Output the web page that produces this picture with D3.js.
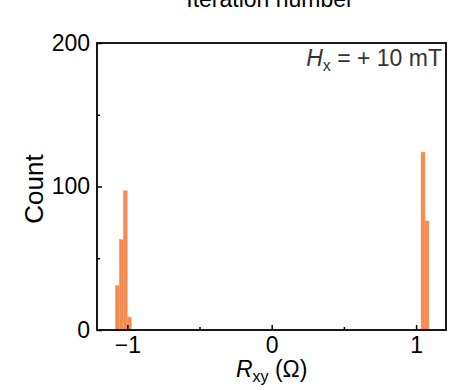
<!DOCTYPE html>
<html>
<head>
<meta charset="utf-8">
<script src="https://cdn.jsdelivr.net/npm/d3@7"></script>
<style>
  body { margin: 0; background: #fff; }
  svg text { font-family: "Liberation Sans", Arial, sans-serif; }
</style>
</head>
<body>
<div id="chart"></div>
<script>
// histogram bins (left edge in ohm) and counts
const binWidth = 0.0275;
const binStarts = [-1.083, -1.0555, -1.028, -1.0005, 1.034, 1.0615];
const binCounts = [31, 63, 97, 9, 124, 76];
const xTicks = [-1, 0, 1];
const xMinor = [-0.5, 0.5];
const yTicks = [0, 100, 200];
const yMinor = [50, 150];

function draw() {
  const W = 466, H = 390;
  const margin = {top: 43, right: 20, bottom: 60, left: 97};
  const width = W - margin.left - margin.right,
        height = H - margin.top - margin.bottom;

  const svg = d3.select("#chart").append("svg")
      .attr("width", W).attr("height", H);

  const g = svg.append("g")
      .attr("transform", `translate(${margin.left}, ${margin.top})`);

  const x = d3.scaleLinear().domain([-1.21, 1.207]).range([0, width]);
  const y = d3.scaleLinear().domain([0, 200]).range([height, 0]);

  const bins = binStarts.map((s, i) => ({x0: s, x1: s + binWidth, n: binCounts[i]}));

  // bars
  g.selectAll("rect.bar")
    .data(bins)
    .join("rect")
      .attr("class", "bar")
      .attr("x", d => x(d.x0))
      .attr("width", d => x(d.x1) - x(d.x0))
      .attr("y", d => y(d.n))
      .attr("height", d => y(0) - y(d.n))
      .attr("fill", "#f58b50")
      .attr("stroke", "#f8a070")
      .attr("stroke-width", 0.5);

  // x axis, ticks pointing inward
  g.append("g")
      .attr("transform", `translate(0, ${height})`)
      .call(d3.axisBottom(x).tickValues(xTicks).tickSize(-5).tickPadding(7).tickFormat(d3.format("d")));
  g.append("g")
      .attr("transform", `translate(0, ${height})`)
      .call(d3.axisBottom(x).tickValues(xMinor).tickSize(-3).tickFormat(""));

  // y axis
  g.append("g")
      .call(d3.axisLeft(y).tickValues(yTicks).tickSize(-5).tickPadding(7));
  g.append("g")
      .call(d3.axisLeft(y).tickValues(yMinor).tickSize(-3).tickFormat(""));

  g.selectAll(".domain").remove();
  g.selectAll(".tick line").attr("stroke", "#000").attr("stroke-width", 1.5);
  g.selectAll(".tick text")
      .attr("fill", "#000")
      .style("font-size", "23px");

  // frame
  g.append("rect")
      .attr("x", 0).attr("y", 0)
      .attr("width", width).attr("height", height)
      .attr("fill", "none")
      .attr("stroke", "#000")
      .attr("stroke-width", 1.8);

  // axis labels
  svg.append("text")
      .attr("transform", `translate(43, ${margin.top + 146}) rotate(-90)`)
      .attr("text-anchor", "middle")
      .style("font-size", "26px")
      .text("Count");

  const xl = svg.append("text")
      .attr("x", margin.left + x(0))
      .attr("y", 377)
      .attr("text-anchor", "middle")
      .style("font-size", "23px");
  xl.append("tspan").style("font-style", "italic").text("R");
  xl.append("tspan").attr("dy", 5).style("font-size", "16px").text("xy");
  xl.append("tspan").attr("dy", -5).text(" (Ω)");

  // field annotation
  const hl = g.append("text")
      .attr("x", width - 4)
      .attr("y", 23)
      .attr("text-anchor", "end")
      .attr("fill", "#333")
      .style("font-size", "23px");
  hl.append("tspan").style("font-style", "italic").text("H");
  hl.append("tspan").attr("dy", 5).style("font-size", "16px").text("x");
  hl.append("tspan").attr("dy", -5).text(" = + 10 mT");

  // title of the panel above, cut off at the top as in the source figure
  svg.append("text")
      .attr("x", 270)
      .attr("y", 7)
      .attr("text-anchor", "middle")
      .style("font-size", "23px")
      .text("Iteration number");
}

draw();
</script>
</body>
</html>
